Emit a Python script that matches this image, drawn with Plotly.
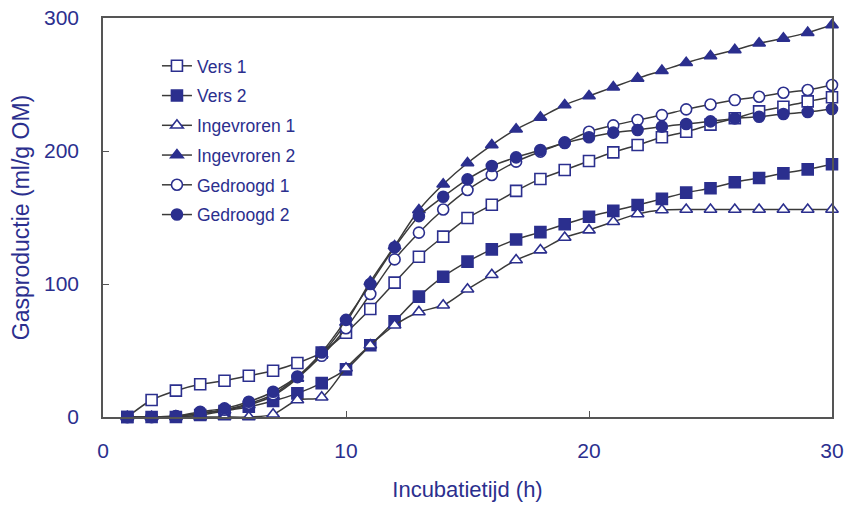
import plotly.graph_objects as go

hours = list(range(1, 31))

vers1 = [0, 12.8, 19.8, 24.6, 27.3, 31, 34.8, 40.6, 48.4, 63.4,
         81.2, 101, 120.5, 135.6, 149.6, 159.6, 170, 179, 185.7, 192.5,
         199, 204.5, 210.3, 214.5, 219.8, 224.6, 229.8, 233.3, 237.3, 240.4]
vers2 = [0, 0, 0, 1.5, 4.5, 7.7, 12, 17.8, 25.5, 35.8,
         54, 72, 90.5, 105.5, 116.8, 126, 133.5, 139, 144.9, 150.6,
         155, 159.4, 164, 168.7, 172, 176.5, 179.7, 183.2, 186.2, 190]
ingevroren1 = [0, 0, 0, 0, 0, 0, 2, 12.8, 14.8, 36.6,
               54, 69, 79, 84, 96, 107, 118, 125.5, 135, 140.5,
               146.8, 152.6, 155.6, 156, 156, 156, 156, 156, 156, 156]
ingevroren2 = [0, 0, 0.5, 2.5, 5, 9, 16, 29, 47, 71,
               101.7, 128.6, 155.6, 175, 191, 204.5, 216.3, 225.3, 234.6, 241.4,
               248, 254.6, 260.4, 266.4, 271.4, 276, 281, 284.7, 289, 294.7]
gedroogd1 = [0, 0, 0.5, 3, 5.5, 10, 17, 30, 46, 66.7,
             92.5, 118.5, 138.6, 156, 170.7, 182, 192, 199.5, 206.5, 214.5,
             219.3, 223.3, 227, 231.3, 235, 238.3, 240.8, 243.8, 245.9, 249.6]
gedroogd2 = [0, 0, 0.8, 4, 6.5, 11.5, 19, 30.5, 48.5, 73,
             100, 127.6, 151, 165.6, 178.7, 188.7, 195.2, 200.7, 206, 210.3,
             213.8, 215.8, 218.3, 220.3, 222.3, 224.5, 225.8, 227.8, 229.3, 231.6]

# (name, values, marker symbol, filled?)
series = [
    ("Vers 1", vers1, "square", False),
    ("Vers 2", vers2, "square", True),
    ("Ingevroren 1", ingevroren1, "triangle-up", False),
    ("Ingevroren 2", ingevroren2, "triangle-up", True),
    ("Gedroogd 1", gedroogd1, "circle", False),
    ("Gedroogd 2", gedroogd2, "circle", True),
]

navy = "#2B2F8E"
linec = "#3a3a3a"
font = "Liberation Sans, Arial, sans-serif"

fig = go.Figure()
for name, vals, sym, filled in series:
    fig.add_trace(go.Scatter(
        x=hours, y=vals, name=name, mode="lines+markers",
        legendgroup=name,
        line=dict(color=linec, width=1.5, shape="spline", smoothing=0.8),
        marker=dict(symbol=sym, size=11, color=navy if filled else "white",
                    line=dict(color=navy, width=1.6)),
        cliponaxis=False,
    ))

fig.update_layout(
    width=846, height=507,
    margin=dict(l=103, r=14, t=18, b=90, autoexpand=False),
    paper_bgcolor="white", plot_bgcolor="white",
    font=dict(family=font, color=navy, size=21),
    legend=dict(x=0.074, y=0.925, xanchor="left", yanchor="top",
                font=dict(size=17.5, color=navy), tracegroupgap=4,
                bgcolor="rgba(0,0,0,0)"),
    xaxis=dict(range=[0, 30], tickvals=[0, 10, 20, 30], ticks="inside", ticklen=6,
               tickcolor="#555", showgrid=False, zeroline=False, automargin=False,
               showline=True, linecolor="#555", linewidth=1.5, mirror=True,
               ticklabelstandoff=14, ticklabeloverflow="allow",
               title=dict(text="Incubatietijd (h)", font=dict(size=22, color=navy), standoff=21)),
    yaxis=dict(range=[0, 300], tickvals=[0, 100, 200, 300], ticks="inside", ticklen=6,
               tickcolor="#555", showgrid=False, zeroline=False, automargin=False,
               showline=True, linecolor="#555", linewidth=1.5, mirror=True,
               ticklabelstandoff=18, ticklabeloverflow="allow",
               title=dict(text="Gasproductie (ml/g OM)", font=dict(size=23, color=navy), standoff=8)),
)

fig.write_html("out.html", config={"displayModeBar": False},
               post_script="document.body.style.margin='0';document.body.style.overflow='hidden';")
